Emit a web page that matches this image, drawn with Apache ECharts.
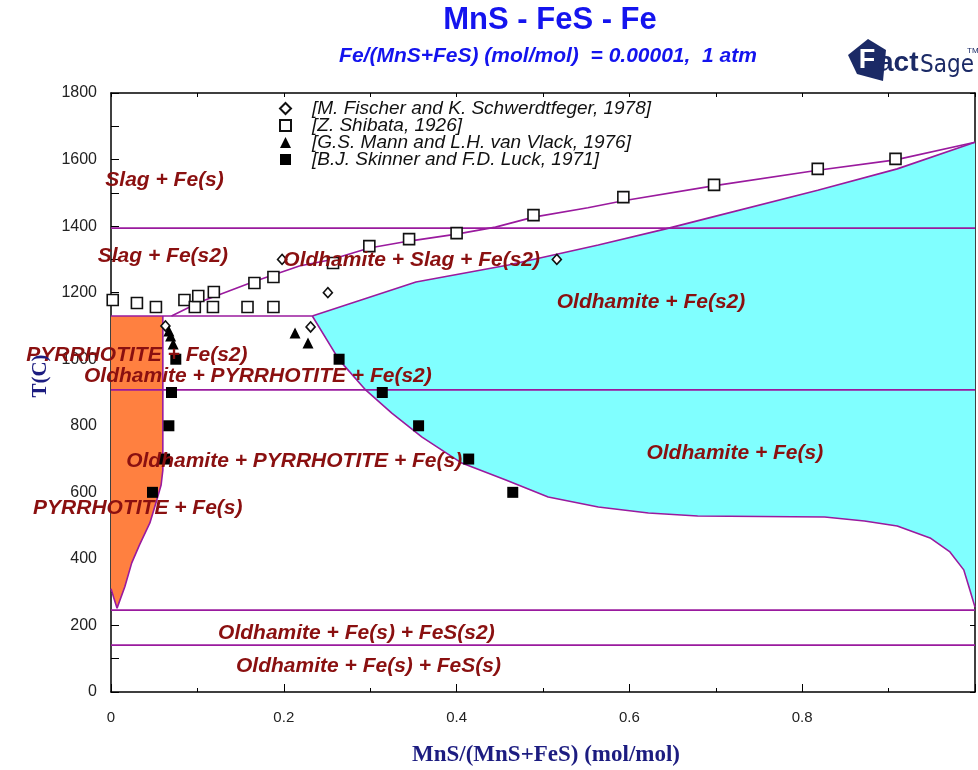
<!DOCTYPE html>
<html>
<head>
<meta charset="utf-8">
<script src="https://cdn.jsdelivr.net/npm/echarts@6/dist/echarts.min.js"></script>
<style>
  html, body { margin: 0; padding: 0; background: #fff; }
  #chart { width: 978px; height: 770px; }
</style>
</head>
<body>
<div id="chart"></div>
<script>
// ---- Axis ticks -------------------------------------------------------
const xTickLabels = ['0', '0.2', '0.4', '0.6', '0.8'];
const yTickValues = [0, 200, 400, 600, 800, 1000, 1200, 1400, 1600, 1800];

// ---- Experimental points: [MnS/(MnS+FeS), T (C)] -------------------
const fischer1978 = [[0.063, 1100], [0.198, 1300], [0.251, 1200], [0.231, 1097], [0.516, 1300]];
const shibata1926 = [
  [0.002, 1178], [0.030, 1169], [0.052, 1157], [0.085, 1178], [0.097, 1157],
  [0.101, 1190], [0.119, 1202], [0.118, 1157], [0.158, 1157], [0.188, 1157],
  [0.166, 1229], [0.188, 1247], [0.257, 1289], [0.299, 1340], [0.345, 1361],
  [0.400, 1379], [0.489, 1433], [0.593, 1487], [0.698, 1524], [0.818, 1572],
  [0.908, 1602]
];
const mann1976 = [[0.067, 1085], [0.069, 1070], [0.072, 1046], [0.213, 1079], [0.228, 1049]];
const skinner1971 = [
  [0.075, 1000], [0.070, 900], [0.067, 800], [0.062, 700], [0.048, 600],
  [0.264, 1000], [0.314, 900], [0.356, 800], [0.414, 700], [0.465, 600]
];

// ---- Calculated phase boundaries --------------------------------------
// isotherms: [x from, x to, T]
const isotherms = [[0, 1, 1394], [0, 0.233, 1130], [0, 1, 908], [0, 1, 246], [0, 1, 141]];
// pyrrhotite single-phase field (Fe-rich side)
const pyrrhotiteField = [
  [0, 1130], [0.060, 1130], [0.060, 667], [0.058, 622], [0.053, 577], [0.045, 508],
  [0.033, 442], [0.024, 388], [0.016, 316], [0.007, 252], [0.003, 285], [0, 310]
];
const pyrrhotiteEdge = [
  [0.060, 1130], [0.060, 667], [0.058, 622], [0.053, 577], [0.045, 508], [0.033, 442],
  [0.024, 388], [0.016, 316], [0.007, 252], [0.003, 285], [0, 310]
];
// oldhamite solvus and liquidus
const oldhamiteSolvus = [
  [0.233, 1130], [0.264, 998], [0.295, 907], [0.325, 838], [0.360, 766], [0.406, 688],
  [0.457, 637], [0.506, 586], [0.564, 556], [0.622, 538], [0.679, 529], [0.826, 526],
  [0.872, 514], [0.910, 499], [0.948, 463], [0.971, 421], [0.987, 367], [0.994, 307], [1.0, 255]
];
const oldhamiteLiquidus = [
  [0.233, 1130], [0.353, 1232], [0.460, 1283], [0.564, 1343], [0.641, 1391],
  [0.691, 1424], [0.818, 1508], [0.910, 1572], [1.0, 1652]
];
// slag / Fe(s2) liquidus
const ironLiquidus = [
  [0.070, 1130], [0.103, 1172], [0.164, 1232], [0.218, 1280], [0.253, 1298],
  [0.299, 1334], [0.345, 1355], [0.400, 1376], [0.445, 1397], [0.489, 1427],
  [0.552, 1455], [0.593, 1476], [0.697, 1521], [0.818, 1568], [0.908, 1599], [1.0, 1652]
];

// ---- Phase field names and where they are written ---------------------
const fieldNames = [
  'Slag + Fe(s)', 'Slag + Fe(s2)', 'Oldhamite + Slag + Fe(s2)', 'Oldhamite + Fe(s2)',
  'PYRRHOTITE + Fe(s2)', 'Oldhamite + PYRRHOTITE + Fe(s2)', 'Oldhamite + PYRRHOTITE + Fe(s)',
  'Oldhamite + Fe(s)', 'PYRRHOTITE + Fe(s)', 'Oldhamite + Fe(s) + FeS(s2)', 'Oldhamite + Fe(s) + FeS(s)'
];
const fieldAnchors = [
  [0.062, 1539], [0.060, 1310], [0.348, 1298], [0.625, 1172], [0.030, 1013], [0.170, 950],
  [0.212, 694], [0.722, 718], [0.031, 553], [0.284, 177], [0.298, 78]
];

const sources = [
  '[M. Fischer and K. Schwerdtfeger, 1978]',
  '[Z. Shibata, 1926]',
  '[G.S. Mann and L.H. van Vlack, 1976]',
  '[B.J. Skinner and F.D. Luck, 1971]'
];

// ---- Styling ------------------------------------------------------------
const SANS = '"Liberation Sans", Arial, sans-serif';
const SERIF = '"Liberation Serif", "Times New Roman", serif';
const BOUNDARY = '#9a1a9e';
const FIELD_TEXT = '#8a1010';

function fieldPolygon(points, fill) {
  return {
    type: 'custom',
    coordinateSystem: 'cartesian2d',
    silent: true,
    clip: true,
    z: 1,
    data: points,
    renderItem: function (params, api) {
      if (params.dataIndex !== 0) return null;
      return {
        type: 'polygon',
        shape: { points: points.map(function (p) { return api.coord(p); }) },
        style: { fill: fill, stroke: null }
      };
    }
  };
}

function boundaryLine(points) {
  return {
    type: 'line',
    data: points,
    showSymbol: false,
    symbol: 'none',
    silent: true,
    clip: true,
    z: 2,
    lineStyle: { color: BOUNDARY, width: 1.6 }
  };
}

function pointSeries(name, data, symbol, size, filled) {
  return {
    name: name,
    type: 'scatter',
    data: data,
    symbol: symbol,
    symbolSize: size,
    z: 3,
    silent: true,
    itemStyle: filled
      ? { color: '#000', borderColor: '#000', borderWidth: 0, opacity: 1 }
      : { color: '#fff', borderColor: '#111', borderWidth: 1.6, opacity: 1 }
  };
}

const series = [
  fieldPolygon(pyrrhotiteField, '#ff8040'),
  fieldPolygon(oldhamiteSolvus.concat(oldhamiteLiquidus.slice().reverse()), '#80ffff')
];
isotherms.forEach(function (iso) {
  series.push(boundaryLine([[iso[0], iso[2]], [iso[1], iso[2]]]));
});
series.push(boundaryLine(pyrrhotiteEdge));
series.push(boundaryLine(oldhamiteSolvus));
series.push(boundaryLine(oldhamiteLiquidus));
series.push(boundaryLine(ironLiquidus));

series.push(pointSeries(sources[0], fischer1978, 'diamond', [9, 10], false));
series.push(pointSeries(sources[1], shibata1926, 'rect', 11, false));
series.push(pointSeries(sources[2], mann1976, 'triangle', 11, true));
series.push(pointSeries(sources[3], skinner1971, 'rect', 11, true));

series.push({
  type: 'scatter',
  silent: true,
  z: 5,
  symbolSize: 0,
  itemStyle: { opacity: 1 },
  data: fieldAnchors.map(function (p, i) { return { value: p, name: fieldNames[i] }; }),
  label: {
    show: true,
    position: 'inside',
    formatter: '{b}',
    color: FIELD_TEXT,
    opacity: 1,
    fontFamily: SANS,
    fontStyle: 'italic',
    fontWeight: 'bold',
    fontSize: 21
  },
  labelLayout: { hideOverlap: false }
});

const axisBlack = { color: '#000', width: 1.5 };

const option = {
  animation: false,
  backgroundColor: '#fff',
  grid: { left: 111, right: 0, top: 93, bottom: 78 },
  legend: {
    data: sources,
    orient: 'vertical',
    left: 274,
    top: 94,
    itemWidth: 11,
    itemHeight: 11,
    itemGap: -2,
    selectedMode: false,
    textStyle: {
      fontFamily: SANS,
      fontStyle: 'italic',
      fontSize: 19,
      lineHeight: 17,
      color: '#111',
      padding: [0, 0, 0, 16]
    }
  },
  xAxis: [
    {
      type: 'value', min: 0, max: 1, interval: 0.2, position: 'bottom',
      axisLine: { show: true, onZero: false, lineStyle: axisBlack },
      axisTick: { show: true, inside: true, length: 8, lineStyle: { color: '#000' } },
      minorTick: { show: true, splitNumber: 2, length: 4, lineStyle: { color: '#000' } },
      splitLine: { show: false },
      axisLabel: {
        margin: 18, fontSize: 15, color: '#222', fontFamily: SANS,
        formatter: function (v) {
          const i = Math.round(v / 0.2);
          return i < xTickLabels.length ? xTickLabels[i] : '';
        }
      }
    },
    {
      type: 'value', min: 0, max: 1, interval: 0.1, position: 'top',
      axisLine: { show: true, onZero: false, lineStyle: axisBlack },
      axisTick: { show: true, inside: true, length: 4, lineStyle: { color: '#000' } },
      splitLine: { show: false },
      axisLabel: { show: false }
    }
  ],
  yAxis: [
    {
      type: 'value', min: yTickValues[0], max: yTickValues[yTickValues.length - 1], interval: 200,
      axisLine: { show: true, onZero: false, lineStyle: axisBlack },
      axisTick: { show: true, inside: true, length: 8, lineStyle: { color: '#000' } },
      minorTick: { show: true, splitNumber: 2, length: 8, lineStyle: { color: '#000' } },
      splitLine: { show: false },
      axisLabel: {
        margin: 14, fontSize: 16, color: '#222', fontFamily: SANS,
        formatter: function (v) { return String(Math.round(v)); }
      }
    },
    {
      type: 'value', min: 0, max: 1800, interval: 200, position: 'right',
      axisLine: { show: true, onZero: false, lineStyle: axisBlack },
      axisTick: { show: true, inside: true, length: 5, lineStyle: { color: '#000' } },
      splitLine: { show: false },
      axisLabel: { show: false }
    }
  ],
  graphic: [
    {
      type: 'text', x: 550, y: 5, z: 10,
      style: { text: 'MnS - FeS - Fe', fill: '#1414ee', font: 'bold 31px ' + SANS, align: 'center', verticalAlign: 'top' }
    },
    {
      type: 'text', x: 548, y: 46, z: 10,
      style: { text: 'Fe/(MnS+FeS) (mol/mol)  = 0.00001,  1 atm', fill: '#1414ee', font: 'italic bold 21px ' + SANS, align: 'center', verticalAlign: 'top' }
    },
    {
      type: 'text', x: 41, y: 376, rotation: Math.PI / 2, z: 10,
      style: { text: 'T(C)', fill: '#1c1c80', font: 'bold 21px ' + SERIF, align: 'center', verticalAlign: 'middle' }
    },
    {
      type: 'text', x: 546, y: 755, z: 10,
      style: { text: 'MnS/(MnS+FeS) (mol/mol)', fill: '#1c1c80', font: 'bold 23px ' + SERIF, align: 'center', verticalAlign: 'middle' }
    },
    {
      type: 'group', z: 10,
      children: [
        { type: 'polygon', shape: { points: [[848, 55], [868, 39], [886, 50], [883, 81], [857, 74]] }, style: { fill: '#1b2a66' } },
        { type: 'text', x: 867, y: 61, style: { text: 'F', fill: '#fff', font: 'bold 27px ' + SANS, align: 'center', verticalAlign: 'middle' } },
        { type: 'text', x: 878, y: 77, style: { text: 'act', fill: '#1b2a66', font: 'bold 28px ' + SANS, align: 'left', verticalAlign: 'bottom' } },
        { type: 'text', x: 920, y: 78, style: { text: 'Sage', fill: '#1b2a66', font: '24px "DejaVu Sans Condensed", ' + SANS, align: 'left', verticalAlign: 'bottom' } },
        { type: 'text', x: 967, y: 47, style: { text: 'TM', fill: '#1b2a66', font: '8px ' + SANS, align: 'left', verticalAlign: 'top' } }
      ]
    }
  ],
  series: series
};

const chart = echarts.init(document.getElementById('chart'), null, { renderer: 'canvas' });
chart.setOption(option);
</script>
</body>
</html>
